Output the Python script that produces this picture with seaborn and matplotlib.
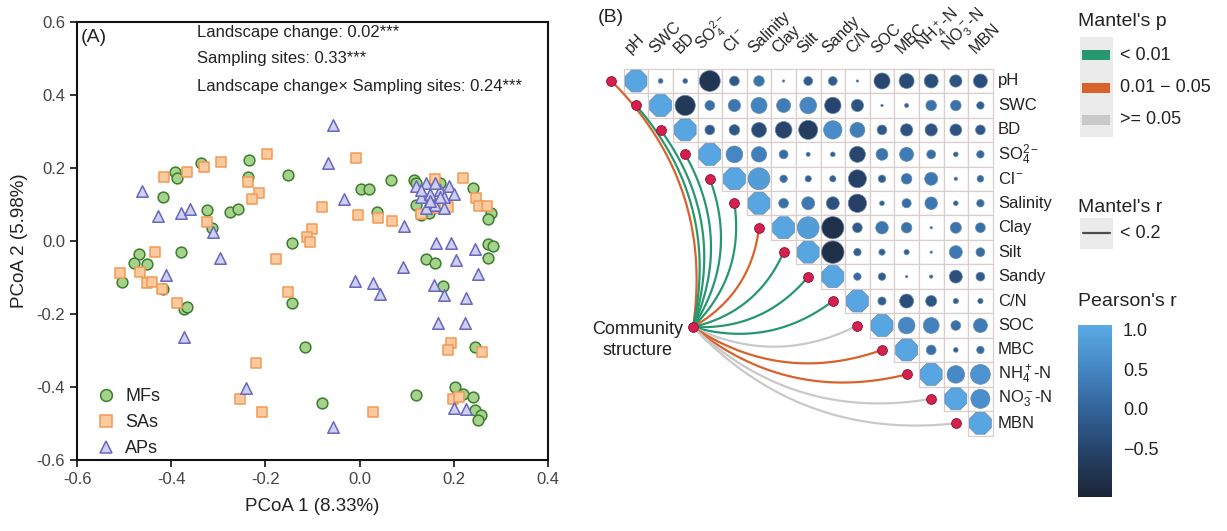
import numpy as np
import pandas as pd
import matplotlib
matplotlib.use("Agg")
import matplotlib.pyplot as plt
import seaborn as sns
from matplotlib.colors import LinearSegmentedColormap, Normalize
from matplotlib.patches import Rectangle
from matplotlib.lines import Line2D
from matplotlib.cm import ScalarMappable

# ---------------- panel A: PCoA scores
mf_x = [-0.234, -0.337, -0.392, -0.388, -0.151, -0.236, -0.417, -0.323, -0.275, -0.259,
        -0.314, 0.067, 0.003, 0.021, 0.116, 0.240, 0.120, 0.147, 0.036, 0.278,
        0.273, -0.143, 0.273, 0.284, 0.272, 0.142, 0.160, 0.178, -0.380, -0.468,
        -0.480, -0.451, -0.504, -0.418, -0.144, -0.373, -0.366, -0.116, 0.245, 0.120,
        -0.080, 0.203, 0.219, 0.240, 0.245, 0.257, 0.252, 0.120, 0.170, 0.130]
mf_y = [0.222, 0.215, 0.190, 0.172, 0.181, 0.175, 0.121, 0.085, 0.080, 0.089,
        0.035, 0.167, 0.142, 0.142, 0.167, 0.144, 0.100, 0.076, 0.079, 0.078,
        0.059, -0.005, -0.009, -0.014, -0.046, -0.050, -0.059, -0.122, -0.031, -0.036,
        -0.061, -0.063, -0.113, -0.132, -0.169, -0.187, -0.180, -0.290, -0.290, -0.422,
        -0.443, -0.401, -0.419, -0.427, -0.463, -0.477, -0.490, 0.160, 0.160, 0.070]

sa_x = [-0.196, -0.008, -0.294, -0.330, -0.367, -0.415, -0.236, -0.213, -0.228, -0.080,
        -0.004, 0.040, 0.068, -0.325, -0.100, -0.112, -0.105, 0.220, 0.160, 0.247,
        0.254, 0.270, 0.187, 0.130, 0.160, -0.434, -0.177, -0.509, -0.466, -0.452,
        -0.441, -0.420, -0.388, -0.153, -0.220, 0.193, 0.187, 0.259, -0.254, -0.208,
        0.029, 0.199, 0.210]
sa_y = [0.238, 0.228, 0.216, 0.204, 0.190, 0.176, 0.163, 0.131, 0.114, 0.094,
        0.071, 0.062, 0.056, 0.053, 0.033, 0.010, -0.004, 0.172, 0.170, 0.117,
        0.096, 0.096, 0.094, 0.075, 0.090, -0.029, -0.050, -0.088, -0.086, -0.114,
        -0.111, -0.132, -0.169, -0.139, -0.333, -0.279, -0.299, -0.303, -0.433, -0.468,
        -0.469, -0.434, -0.428]

ap_x = [-0.057, -0.068, -0.463, -0.429, -0.380, -0.360, -0.033, -0.312, -0.296, -0.411,
        0.095, 0.162, 0.195, 0.245, 0.205, 0.093, 0.252, -0.010, 0.029, 0.043,
        0.159, 0.179, 0.226, 0.167, 0.224, -0.373, -0.241, -0.057, 0.200, 0.226,
        0.120, 0.130, 0.140, 0.150, 0.160, 0.170, 0.180, 0.190, 0.140, 0.160,
        0.180, 0.130, 0.200, 0.150, 0.170]
ap_y = [0.318, 0.215, 0.138, 0.069, 0.078, 0.088, 0.115, 0.024, -0.046, -0.093,
        0.041, -0.006, -0.005, -0.022, -0.052, -0.070, -0.090, -0.110, -0.114, -0.146,
        -0.121, -0.148, -0.156, -0.225, -0.224, -0.262, -0.404, -0.509, -0.457, -0.461,
        0.150, 0.120, 0.160, 0.130, 0.100, 0.140, 0.120, 0.150, 0.090, 0.160,
        0.090, 0.140, 0.130, 0.110, 0.120]

groups = ["MFs", "SAs", "APs"]
stats_text = ["Landscape change: 0.02***", "Sampling sites: 0.33***",
              "Landscape change\u00d7 Sampling sites: 0.24***"]

# ---------------- panel B: Pearson matrix (upper triangle) and Mantel tests
env_vars = ["pH", "SWC", "BD", r"SO$_4^{2-}$", r"Cl$^-$", "Salinity", "Clay", "Silt",
            "Sandy", "C/N", "SOC", "MBC", r"NH$_4^+$-N", r"NO$_3^-$-N", "MBN"]
pearson_rows = [
    [1, 0.04, -0.04, -0.78, -0.17, 0.20, 0.01, -0.14, -0.14, 0.01, -0.46, -0.40, -0.35, -0.27, -0.35],
    [1, -0.73, 0.17, 0.27, 0.46, 0.35, 0.50, -0.48, -0.27, 0.01, -0.03, 0.20, 0.20, -0.10],
    [1, -0.17, -0.20, -0.40, -0.50, -0.65, 0.60, 0.40, -0.17, -0.27, -0.27, -0.25, -0.17],
    [1, 0.50, 0.42, 0.14, -0.03, -0.04, -0.46, 0.25, 0.35, 0.14, -0.04, 0.10],
    [1, 0.85, 0.10, -0.07, -0.07, -0.58, -0.10, 0.20, 0.30, -0.02, 0.08],
    [1, 0.17, 0.30, -0.30, -0.60, -0.04, 0.15, 0.28, -0.04, 0.10],
    [1, 0.85, -0.88, -0.17, 0.28, 0.20, 0.01, 0.22, 0.17],
    [1, -0.90, -0.10, -0.07, -0.05, -0.01, 0.30, 0.14],
    [1, 0.10, -0.10, 0.01, -0.02, -0.30, -0.14],
    [1, -0.12, -0.35, -0.22, -0.05, -0.05],
    [1, 0.50, 0.45, 0.17, 0.35],
    [1, 0.17, -0.04, 0.10],
    [1, 0.55, 0.70],
    [1, 0.65],
    [1],
]
mantel_p = ["0.01 - 0.05", "< 0.01", "< 0.01", "< 0.01", "< 0.01", "< 0.01",
            "0.01 - 0.05", "< 0.01", "< 0.01", "< 0.01", ">= 0.05", "0.01 - 0.05",
            "0.01 - 0.05", ">= 0.05", ">= 0.05"]
p_levels = ["< 0.01", "0.01 - 0.05", ">= 0.05"]
p_colors = {"< 0.01": "#27976f", "0.01 - 0.05": "#d9622b", ">= 0.05": "#c9c9c9"}

# ---------------- style
sns.set_style("white")
plt.rcParams["font.family"] = ["Liberation Sans", "DejaVu Sans"]
plt.rcParams["mathtext.fontset"] = "custom"
plt.rcParams["mathtext.rm"] = "Liberation Sans"
plt.rcParams["mathtext.it"] = "Liberation Sans:italic"
plt.rcParams["mathtext.default"] = "regular"
plt.rcParams["axes.unicode_minus"] = False
TXT = "#222222"

W, H = 1227, 531
fig = plt.figure(figsize=(W / 100, H / 100), dpi=100)


def px_axes(l, t, r, b):
    return fig.add_axes([l / W, 1 - b / H, (r - l) / W, (b - t) / H])


# ================= panel A
AX_T, AX_B = 22, 460
ax = px_axes(77, AX_T, 548, AX_B)
styles = {
    "MFs": dict(marker="o", s=60, color="#a6d38c", edgecolor="#3d7d30"),
    "SAs": dict(marker="s", s=50, color="#fdc99e", edgecolor="#f09a55"),
    "APs": dict(marker="^", s=68, color="#cfcff2", edgecolor="#6767bd"),
}
for g, xs, ys in zip(groups, [mf_x, sa_x, ap_x], [mf_y, sa_y, ap_y]):
    sns.scatterplot(x=xs, y=ys, ax=ax, linewidth=1.1, zorder=3, **styles[g])

ax.set_xlim(-0.6, 0.4)
ax.set_ylim(-0.6, 0.6)
ax.set_xticks(np.arange(-0.6, 0.41, 0.2))
ax.set_yticks(np.arange(-0.6, 0.61, 0.2))
ax.xaxis.set_major_formatter(matplotlib.ticker.FormatStrFormatter("%.1f"))
ax.yaxis.set_major_formatter(matplotlib.ticker.FormatStrFormatter("%.1f"))
for sp in ax.spines.values():
    sp.set_visible(True)
    sp.set_color("#111111")
    sp.set_linewidth(1.5)
ax.tick_params(direction="out", length=5, width=1.2, labelsize=12, colors="#111111",
               labelcolor="#444444", bottom=True, left=True)
ax.set_xlabel("PCoA 1 (8.33%)", fontsize=13.5, color=TXT, labelpad=8)
ax.set_ylabel("PCoA 2 (5.98%)", fontsize=13.5, color=TXT, labelpad=6)

handles = [Line2D([], [], linestyle="none", marker=styles[g]["marker"], markersize=8.5,
                  markerfacecolor=styles[g]["color"], markeredgecolor=styles[g]["edgecolor"],
                  markeredgewidth=1.1) for g in groups]
ax.legend(handles, groups, loc="lower left", bbox_to_anchor=(0.005, -0.03), frameon=False,
          fontsize=13, handletextpad=0.45, labelspacing=0.5, handlelength=1.2,
          labelcolor=TXT)


def ax_frac(py):
    return (AX_B - py) / (AX_B - AX_T)


ax.text(0.008, ax_frac(37), "(A)", transform=ax.transAxes, fontsize=14, color=TXT,
        va="center")
for k, t in enumerate(stats_text):
    ax.text(0.255, ax_frac(32 + 27 * k), t, transform=ax.transAxes, fontsize=12,
            color=TXT, va="center")

# ================= panel B
CX, CY, X0, Y0 = 24.6, 24.45, 636, 81
bx = px_axes(585, 5, 995, 445)
n = len(env_vars)

for i in range(n):
    for j in range(i, n):
        bx.add_patch(Rectangle((j - 0.5, i - 0.5), 1, 1, fc="white", ec="#d9cdcd",
                               lw=0.9, zorder=1))

cells = pd.DataFrame([(i, i + k, r) for i, row in enumerate(pearson_rows)
                      for k, r in enumerate(row)], columns=["row", "col", "r"])
cells["absr"] = cells["r"].abs()
cmap = LinearSegmentedColormap.from_list(
    "pear", [(0, "#1b2536"), (0.27, "#26436a"), (0.52, "#33659a"), (0.76, "#4688c6"),
             (1, "#5aaae4")])
norm = Normalize(-1.12, 1.06)

for diag, mk in [(False, "o"), (True, "8")]:
    sub = cells[(cells["row"] == cells["col"]) == diag]
    sns.scatterplot(data=sub, x="col", y="row", hue="r", size="absr", palette=cmap,
                    hue_norm=norm, sizes=(0, 290), size_norm=(0, 1), marker=mk,
                    edgecolor="#6b89ab", linewidth=0.5, legend=False, ax=bx, zorder=3)

# Mantel links from the community node to each variable
node = np.array([(693 - X0) / CX, (327 - Y0) / CY])
t = np.linspace(0, 1, 80)[:, None]
ends = np.array([[j - 1, j] for j in range(n)], dtype=float)
for j in range(n):
    d = ends[j] - node
    ctrl = (node + ends[j]) / 2 + 0.25 * np.array([-d[1], d[0]])
    pts = (1 - t) ** 2 * node + 2 * (1 - t) * t * ctrl + t ** 2 * ends[j]
    bx.plot(pts[:, 0], pts[:, 1], color=p_colors[mantel_p[j]], lw=1.6, zorder=2,
            solid_capstyle="round")
sns.scatterplot(x=list(ends[:, 0]) + [node[0]], y=list(ends[:, 1]) + [node[1]], ax=bx,
                color="#d41f4f", edgecolor="#8c1233", linewidth=0.6, s=50, zorder=5)

bx.text(node[0] - 0.42, node[1] + 0.55, "Community\nstructure", ha="right", va="center",
        multialignment="center", fontsize=13, color=TXT, linespacing=1.3)
for i, lab in enumerate(env_vars):
    bx.text(14.72, i, lab, ha="left", va="center", fontsize=12, color=TXT)
    bx.text(i - 0.12, (56 - Y0) / CY, lab, ha="left", va="bottom", rotation=45,
            rotation_mode="anchor", fontsize=11.5, color=TXT)

bx.set_xlim((585 - X0) / CX, (995 - X0) / CX)
bx.set_ylim((445 - Y0) / CY, (5 - Y0) / CY)
bx.axis("off")

fig.text(598 / W, 1 - 18 / H, "(B)", fontsize=14, color=TXT, va="center")

# ================= legends
lax = fig.add_axes([0, 0, 1, 1])
lax.set_xlim(0, W)
lax.set_ylim(H, 0)
lax.axis("off")

lax.text(1078, 21, "Mantel's p", fontsize=14, color=TXT, va="center")
lax.add_patch(Rectangle((1080, 37), 33, 100, fc="#ebebeb", ec="none"))
for k, lev in enumerate(p_levels):
    yy = 55 + 32.5 * k
    lax.add_patch(Rectangle((1082, yy - 5), 28, 10, fc=p_colors[lev], ec="none"))
    lax.text(1120, yy, lev.replace(" - ", " \u2212 "), fontsize=13, color=TXT, va="center")

lax.text(1078, 207, "Mantel's r", fontsize=14, color=TXT, va="center")
lax.add_patch(Rectangle((1080, 218), 33, 31, fc="#ebebeb", ec="none"))
lax.plot([1083, 1110], [233, 233], color="#4d4d4d", lw=1.6)
lax.text(1120, 233, "< 0.2", fontsize=13, color=TXT, va="center")

lax.text(1078, 302, "Pearson's r", fontsize=14, color=TXT, va="center")
cax = px_axes(1078, 325, 1112, 497)
cb = fig.colorbar(ScalarMappable(norm=norm, cmap=cmap), cax=cax)
cb.outline.set_visible(False)
cb.set_ticks([1.0, 0.5, 0.0, -0.5])
cb.set_ticklabels(["1.0", "0.5", "0.0", "\u22120.5"])
cax.tick_params(axis="y", direction="in", length=5, width=1, color="white", left=True,
                right=True, labelsize=13, labelcolor=TXT, pad=8)

fig.savefig("out.png", dpi=100)
